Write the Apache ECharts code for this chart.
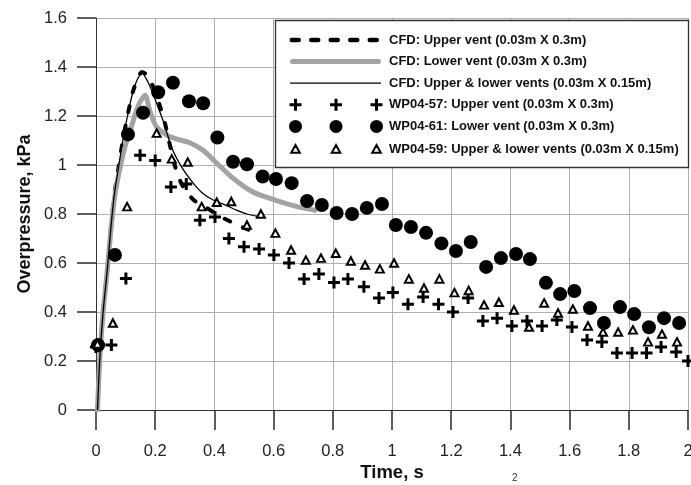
<!DOCTYPE html>
<html>
<head>
<meta charset="utf-8">
<script src="https://cdn.jsdelivr.net/npm/echarts@6/dist/echarts.min.js"></script>
<style>
html,body{margin:0;padding:0;background:#fff;}
#c{width:691px;height:485px;}
</style>
</head>
<body>
<div id="c"></div>
<script>
// ---- data ----
const xTicks = [0, 0.2, 0.4, 0.6, 0.8, 1, 1.2, 1.4, 1.6, 1.8, 2];
const yTicks = [0, 0.2, 0.4, 0.6, 0.8, 1, 1.2, 1.4, 1.6];

const seriesNames = [
  'CFD: Upper vent (0.03m X 0.3m)',
  'CFD: Lower vent (0.03m X 0.3m)',
  'CFD: Upper & lower vents (0.03m X 0.15m)',
  'WP04-57: Upper vent (0.03m X 0.3m)',
  'WP04-61: Lower vent (0.03m X 0.3m)',
  'WP04-59: Upper & lower vents (0.03m X 0.15m)'
];

const cfdUpperT = [0.005, 0.012, 0.024, 0.038, 0.05, 0.062, 0.076, 0.092, 0.108, 0.125, 0.14, 0.155, 0.17, 0.185, 0.2, 0.216, 0.233, 0.25, 0.273, 0.295, 0.33, 0.374, 0.42, 0.475, 0.527, 0.55];
const cfdUpperV = [0, 0.19, 0.40, 0.57, 0.74, 0.88, 0.99, 1.11, 1.21, 1.30, 1.35, 1.38, 1.37, 1.34, 1.30, 1.24, 1.17, 1.08, 0.97, 0.91, 0.857, 0.825, 0.79, 0.757, 0.73, 0.72];

const cfdLowerT = [0.005, 0.012, 0.024, 0.038, 0.05, 0.062, 0.078, 0.097, 0.118, 0.142, 0.166, 0.182, 0.205, 0.25, 0.318, 0.362, 0.408, 0.463, 0.53, 0.61, 0.68, 0.74];
const cfdLowerV = [0, 0.19, 0.40, 0.57, 0.73, 0.86, 0.97, 1.07, 1.15, 1.24, 1.285, 1.22, 1.155, 1.115, 1.09, 1.06, 1.007, 0.946, 0.89, 0.855, 0.83, 0.815];

const cfdBothT = [0.005, 0.012, 0.024, 0.038, 0.05, 0.062, 0.076, 0.092, 0.108, 0.125, 0.14, 0.155, 0.175, 0.193, 0.21, 0.227, 0.256, 0.29, 0.329, 0.36, 0.396, 0.44, 0.475, 0.51, 0.548];
const cfdBothV = [0, 0.19, 0.40, 0.57, 0.74, 0.88, 0.99, 1.11, 1.21, 1.30, 1.35, 1.375, 1.34, 1.29, 1.235, 1.18, 1.07, 0.99, 0.925, 0.885, 0.857, 0.835, 0.816, 0.80, 0.79];

const wp57T = [0.0, 0.052, 0.101, 0.149, 0.2, 0.253, 0.305, 0.351, 0.402, 0.449, 0.5, 0.551, 0.601, 0.652, 0.703, 0.753, 0.804, 0.851, 0.905, 0.956, 1.003, 1.054, 1.105, 1.157, 1.206, 1.257, 1.307, 1.355, 1.405, 1.456, 1.507, 1.557, 1.608, 1.659, 1.709, 1.76, 1.811, 1.86, 1.909, 1.96, 2.0];
const wp57V = [0.257, 0.265, 0.537, 1.04, 1.018, 0.91, 0.922, 0.774, 0.788, 0.7, 0.666, 0.657, 0.633, 0.60, 0.535, 0.555, 0.52, 0.535, 0.503, 0.457, 0.48, 0.432, 0.461, 0.432, 0.40, 0.457, 0.363, 0.375, 0.343, 0.363, 0.343, 0.367, 0.339, 0.286, 0.278, 0.233, 0.233, 0.233, 0.257, 0.237, 0.20];

const wp61T = [0.007, 0.064, 0.108, 0.159, 0.21, 0.26, 0.314, 0.362, 0.41, 0.463, 0.51, 0.563, 0.608, 0.661, 0.713, 0.763, 0.813, 0.865, 0.915, 0.966, 1.013, 1.064, 1.115, 1.167, 1.216, 1.266, 1.318, 1.368, 1.419, 1.466, 1.52, 1.568, 1.616, 1.669, 1.716, 1.77, 1.818, 1.868, 1.919, 1.97];
const wp61V = [0.265, 0.633, 1.125, 1.213, 1.297, 1.336, 1.26, 1.252, 1.112, 1.013, 1.003, 0.953, 0.943, 0.926, 0.853, 0.837, 0.804, 0.80, 0.825, 0.841, 0.755, 0.747, 0.723, 0.68, 0.649, 0.686, 0.584, 0.62, 0.637, 0.616, 0.519, 0.473, 0.486, 0.416, 0.355, 0.42, 0.392, 0.338, 0.375, 0.355];

const wp59T = [0.005, 0.057, 0.105, 0.205, 0.256, 0.31, 0.357, 0.408, 0.457, 0.51, 0.557, 0.606, 0.659, 0.709, 0.76, 0.81, 0.861, 0.909, 0.959, 1.007, 1.057, 1.108, 1.16, 1.211, 1.259, 1.311, 1.361, 1.412, 1.463, 1.514, 1.561, 1.611, 1.662, 1.713, 1.764, 1.814, 1.865, 1.912, 1.963];
const wp59V = [0.27, 0.355, 0.83, 1.13, 1.025, 1.012, 0.83, 0.848, 0.851, 0.755, 0.80, 0.722, 0.653, 0.612, 0.62, 0.64, 0.608, 0.592, 0.576, 0.60, 0.535, 0.498, 0.535, 0.479, 0.488, 0.429, 0.44, 0.408, 0.339, 0.437, 0.396, 0.412, 0.343, 0.318, 0.318, 0.327, 0.278, 0.31, 0.278];

function pairs(t, v) { return t.map((x, i) => [x, v[i]]); }

// ---- symbols ----
const FONT = '"Liberation Sans", Arial, sans-serif';
const plusSym = 'path://M4.5 0H7.5V4.5H12V7.5H7.5V12H4.5V7.5H0V4.5H4.5Z';
function plusAt(cx) {
  return `M${cx-1.5} 1H${cx+1.5}V5.5H${cx+6}V8.5H${cx+1.5}V13H${cx-1.5}V8.5H${cx-6}V5.5H${cx-1.5}Z`;
}
function circAt(cx) {
  const r = 6.5;
  return `M${cx-r} 7A${r} ${r} 0 1 0 ${cx+r} 7A${r} ${r} 0 1 0 ${cx-r} 7Z`;
}
function triAt(cx) {
  return `M${cx} 3L${cx+4.3} 10.8L${cx-4.3} 10.8Z`;
}
function stadium(x0, x1, yc, h) {
  const r = h / 2;
  return `M${x0+r} ${yc-r}H${x1-r}A${r} ${r} 0 0 1 ${x1-r} ${yc+r}H${x0+r}A${r} ${r} 0 0 1 ${x0+r} ${yc-r}Z`;
}
const legendCx = [6.5, 47, 87.5];
const BOX = 'path://M0 0M95 14';
const plusIcon = BOX + legendCx.map(plusAt).join('');
const circIcon = BOX + legendCx.map(circAt).join('');
const triIcon = BOX + legendCx.map(triAt).join('');
const dashIcon = BOX + [0.5, 20, 39.5, 59, 78.5].map(x => stadium(x, x + 11.5, 7, 4.4)).join('');
const grayIcon = BOX + stadium(1, 92, 7, 5);
const thinIcon = BOX + `M1 6.4H92V7.6H1Z`;

const chart = echarts.init(document.getElementById('c'), null, {renderer: 'canvas'});

chart.setOption({
  backgroundColor: '#fff',
  animation: false,
  textStyle: {fontFamily: FONT},
  grid: {left: 96, right: 3, top: 18, bottom: 75, containLabel: false, outerBoundsMode: 'none'},
  xAxis: {
    type: 'value', min: 0, max: 2, interval: 0.2,
    name: 'Time, s', nameLocation: 'middle', nameGap: 53, nameMoveOverlap: false,
    nameTextStyle: {fontFamily: FONT, fontSize: 18.5, fontWeight: 'bold', color: '#111'},
    axisLine: {show: true, onZero: false, lineStyle: {color: '#333', width: 1}},
    axisTick: {show: true, length: 20, lineStyle: {color: '#2a2a2a', width: 1.5}},
    axisLabel: {margin: 33, fontSize: 16.5, color: '#222', fontFamily: FONT, hideOverlap: false,
      formatter: v => xTicks.includes(+v.toFixed(1)) ? String(+v.toFixed(1)) : ''},
    splitLine: {show: true, lineStyle: {color: '#b0b0b0', width: 1}}
  },
  yAxis: {
    type: 'value', min: 0, max: 1.6, interval: 0.2,
    name: 'Overpressure, kPa', nameLocation: 'middle', nameGap: 62, nameMoveOverlap: false,
    nameTextStyle: {fontFamily: FONT, fontSize: 18, fontWeight: 'bold', color: '#111'},
    axisLine: {show: true, onZero: false, lineStyle: {color: '#333', width: 1}},
    axisTick: {show: true, length: 19, lineStyle: {color: '#2a2a2a', width: 1.5}},
    axisLabel: {margin: 29, fontSize: 16.5, color: '#222', fontFamily: FONT,
      formatter: v => yTicks.includes(+v.toFixed(1)) ? String(+v.toFixed(1)) : ''},
    splitLine: {show: true, lineStyle: {color: '#b0b0b0', width: 1}}
  },
  legend: {
    orient: 'vertical', left: 288, top: 33, padding: 0,
    itemWidth: 95, itemHeight: 14, itemGap: 7.6,
    textStyle: {fontFamily: FONT, fontSize: 13, fontWeight: 'bold', color: '#111'},
    z: 6,
    data: [
      {name: seriesNames[0], icon: dashIcon, itemStyle: {color: '#000', borderWidth: 0}},
      {name: seriesNames[1], icon: grayIcon, itemStyle: {color: '#a3a3a3', borderWidth: 0}},
      {name: seriesNames[2], icon: thinIcon, itemStyle: {color: '#000', borderWidth: 0}},
      {name: seriesNames[3], icon: plusIcon},
      {name: seriesNames[4], icon: circIcon},
      {name: seriesNames[5], icon: triIcon}
    ]
  },
  graphic: [
    {type: 'rect', z: 5, shape: {x: 275.5, y: 20.5, width: 413, height: 147},
     style: {fill: '#fff', stroke: '#333', lineWidth: 1.3}},
    {type: 'text', z: 5, left: 512, top: 473, style: {text: '2', fontSize: 10, fill: '#333', fontFamily: FONT}}
  ],
  series: [
    {name: seriesNames[0], type: 'line', data: pairs(cfdUpperT, cfdUpperV), symbol: 'none', smooth: 0.25,
     lineStyle: {color: '#000', width: 4, type: [6, 14], cap: 'round'}, itemStyle: {color: '#000'}, z: 2},
    {name: seriesNames[1], type: 'line', data: pairs(cfdLowerT, cfdLowerV), symbol: 'none', smooth: 0.25,
     lineStyle: {color: '#a3a3a3', width: 5, cap: 'round'}, itemStyle: {color: '#a3a3a3'}, z: 2},
    {name: seriesNames[2], type: 'line', data: pairs(cfdBothT, cfdBothV), symbol: 'none', smooth: 0.25,
     lineStyle: {color: '#000', width: 1.3}, itemStyle: {color: '#000'}, z: 2},
    {name: seriesNames[3], type: 'scatter', data: pairs(wp57T, wp57V), symbol: plusSym, symbolSize: 12,
     itemStyle: {color: '#000', opacity: 1}, z: 3},
    {name: seriesNames[4], type: 'scatter', data: pairs(wp61T, wp61V), symbol: 'circle', symbolSize: 14,
     itemStyle: {color: '#000', opacity: 1}, z: 3},
    {name: seriesNames[5], type: 'scatter', data: pairs(wp59T, wp59V), symbol: 'triangle', symbolSize: [8, 7.5],
     itemStyle: {color: '#fff', borderColor: '#000', borderWidth: 2, opacity: 1}, z: 3}
  ]
});
</script>
</body>
</html>
